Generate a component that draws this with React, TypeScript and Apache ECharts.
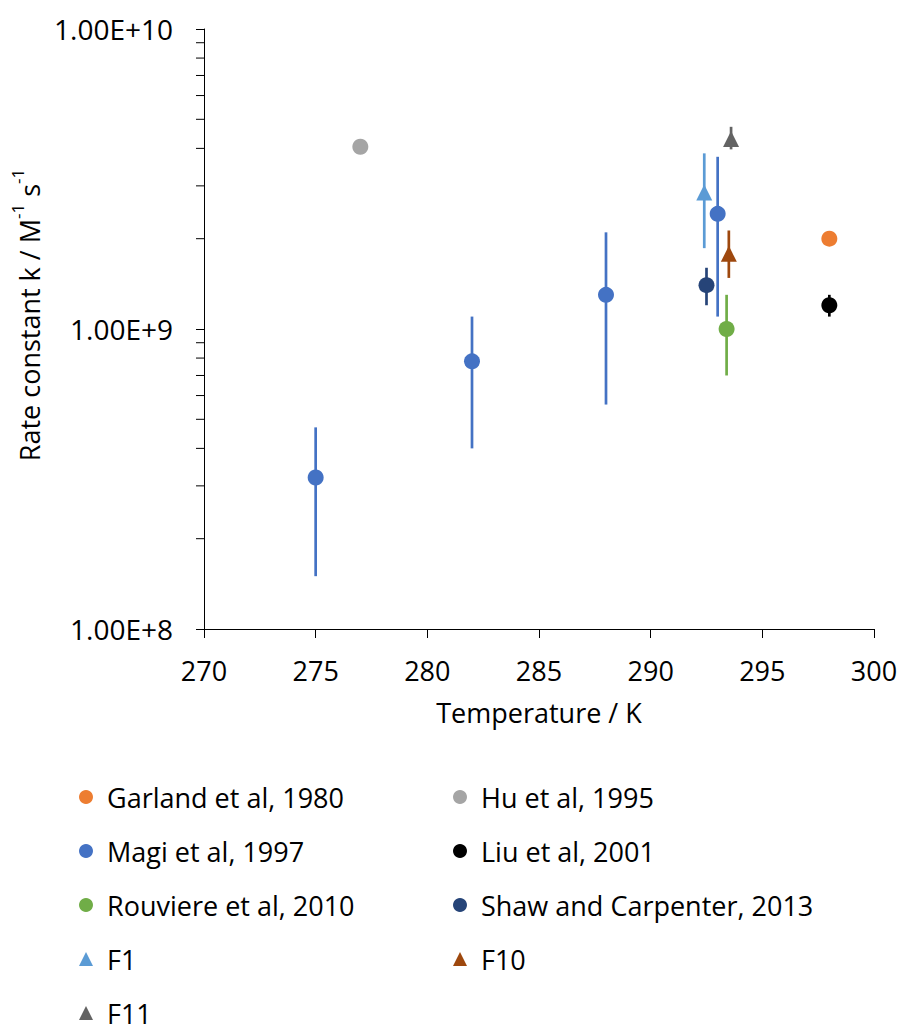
import React, { useEffect, useRef } from "react";
import * as echarts from "echarts";

// ---- data (Temperature / K, rate constant k / M^-1 s^-1) ----
const xTicks = [270, 275, 280, 285, 290, 295, 300];
const yMinorTicks = [2e8, 3e8, 4e8, 5e8, 6e8, 7e8, 8e8, 9e8, 2e9, 3e9, 4e9, 5e9, 6e9, 7e9, 8e9, 9e9];

const garlandT = [298];
const garlandK = [2.0e9];

const huT = [277];
const huK = [4.05e9];

const magiT = [275, 282, 288, 293];
const magiK = [3.2e8, 7.8e8, 1.3e9, 2.42e9];
const magiLow = [1.5e8, 4.0e8, 5.6e8, 1.1e9];
const magiHigh = [4.7e8, 1.1e9, 2.1e9, 3.75e9];

const liuT = [298];
const liuK = [1.2e9];
const liuLow = [1.1e9];
const liuHigh = [1.3e9];

const rouviereT = [293.4];
const rouviereK = [1.0e9];
const rouviereLow = [7.0e8];
const rouviereHigh = [1.3e9];

const shawT = [292.5];
const shawK = [1.4e9];
const shawLow = [1.2e9];
const shawHigh = [1.6e9];

const f1T = [292.4];
const f1K = [2.85e9];
const f1Low = [1.86e9];
const f1High = [3.85e9];

const f10T = [293.5];
const f10K = [1.78e9];
const f10Low = [1.48e9];
const f10High = [2.13e9];

const f11T = [293.6];
const f11K = [4.3e9];
const f11Low = [3.97e9];
const f11High = [4.72e9];

type Group = {
  name: string;
  t: number[];
  k: number[];
  low?: number[];
  high?: number[];
  color: string;
  symbol: string;
};

const groups: Group[] = [
  { name: "Garland et al, 1980", t: garlandT, k: garlandK, color: "#ED7D31", symbol: "circle" },
  { name: "Hu et al, 1995", t: huT, k: huK, color: "#A5A5A5", symbol: "circle" },
  { name: "Magi et al, 1997", t: magiT, k: magiK, low: magiLow, high: magiHigh, color: "#4472C4", symbol: "circle" },
  { name: "Liu et al, 2001", t: liuT, k: liuK, low: liuLow, high: liuHigh, color: "#000000", symbol: "circle" },
  { name: "Rouviere et al, 2010", t: rouviereT, k: rouviereK, low: rouviereLow, high: rouviereHigh, color: "#70AD47", symbol: "circle" },
  { name: "Shaw and Carpenter, 2013", t: shawT, k: shawK, low: shawLow, high: shawHigh, color: "#264478", symbol: "circle" },
  { name: "F1", t: f1T, k: f1K, low: f1Low, high: f1High, color: "#5B9BD5", symbol: "triangle" },
  { name: "F10", t: f10T, k: f10K, low: f10Low, high: f10High, color: "#9E480E", symbol: "triangle" },
  { name: "F11", t: f11T, k: f11K, low: f11Low, high: f11High, color: "#636363", symbol: "triangle" },
];

const legendLeft = ["Garland et al, 1980", "Magi et al, 1997", "Rouviere et al, 2010", "F1", "F11"];
const legendRight = ["Hu et al, 1995", "Liu et al, 2001", "Shaw and Carpenter, 2013", "F10"];

const FONT = "Open Sans";
const FS = 27;

export default function App() {
  const ref = useRef<HTMLDivElement>(null);

  useEffect(() => {
    if (!ref.current) return;
    const chart = echarts.init(ref.current, undefined, { renderer: "svg" });

    const errorSeries = groups
      .filter((g) => g.low && g.high)
      .map((g) => ({
        name: g.name + " error",
        type: "custom",
        z: 1,
        encode: { x: 0, y: [1, 2] },
        data: g.t.map((t, i) => [t, g.low![i], g.high![i]]),
        renderItem: (params: any, api: any) => {
          const x = api.value(0);
          const p1 = api.coord([x, api.value(1)]);
          const p2 = api.coord([x, api.value(2)]);
          return {
            type: "line",
            shape: { x1: p1[0], y1: p1[1], x2: p2[0], y2: p2[1] },
            style: { stroke: g.color, lineWidth: 2.7 },
          };
        },
      }));

    const scatterSeries = groups.map((g) => ({
      name: g.name,
      type: "scatter",
      z: 3,
      symbol: g.symbol,
      symbolSize: 16,
      itemStyle: { color: g.color, opacity: 1 },
      data: g.t.map((t, i) => [t, g.k[i]]),
    }));

    const minorTickSeries = {
      name: "minor ticks",
      type: "custom",
      z: 2,
      silent: true,
      encode: { x: 0, y: 1 },
      data: yMinorTicks.map((v) => [xTicks[0], v]),
      renderItem: (params: any, api: any) => {
        const p = api.coord([api.value(0), api.value(1)]);
        return {
          type: "line",
          shape: { x1: p[0] - 8, y1: p[1], x2: p[0], y2: p[1] },
          style: { stroke: "#000", lineWidth: 1 },
        };
      },
    };

    const legendCommon = {
      orient: "vertical",
      top: 782,
      padding: 0,
      height: 248,
      itemWidth: 14,
      itemHeight: 14,
      itemGap: 24,
      selectedMode: false,
      textStyle: {
        fontFamily: FONT,
        fontSize: FS,
        color: "#000",
        lineHeight: 30,
        padding: [0, 0, 0, 9],
      },
    };

    chart.setOption({
      animation: false,
      backgroundColor: "#fff",
      textStyle: { fontFamily: FONT },
      grid: { left: 204, right: 27, top: 29, bottom: 401, containLabel: false },
      legend: [
        { ...legendCommon, left: 79, data: legendLeft },
        { ...legendCommon, left: 453, data: legendRight },
      ],
      xAxis: {
        type: "value",
        min: xTicks[0],
        max: xTicks[xTicks.length - 1],
        interval: 5,
        name: "Temperature / K",
        nameLocation: "middle",
        nameGap: 70,
        nameTextStyle: { fontFamily: FONT, fontSize: FS, color: "#000", verticalAlign: "top" },
        axisLine: { onZero: false, lineStyle: { color: "#000", width: 1 } },
        axisTick: { length: 9, lineStyle: { color: "#000" } },
        axisLabel: { margin: 28, fontFamily: FONT, fontSize: FS, color: "#000" },
        splitLine: { show: false },
      },
      yAxis: {
        type: "log",
        logBase: 10,
        min: 1e8,
        max: 1e10,
        name: "{a|Rate constant k / M}{s|-1}{a| s}{s|-1}",
        nameLocation: "middle",
        nameGap: 150,
        nameRotate: 90,
        nameTextStyle: {
          fontFamily: FONT,
          fontSize: FS,
          color: "#000",
          padding: [0, 0, 0, 28],
          rich: {
            a: { fontFamily: FONT, fontSize: FS, color: "#000", lineHeight: 34, verticalAlign: "bottom" },
            s: { fontFamily: FONT, fontSize: 17, color: "#000", lineHeight: 34, verticalAlign: "top" },
          },
        },
        axisLine: { show: true, lineStyle: { color: "#000", width: 1 } },
        axisTick: { show: true, length: 8, lineStyle: { color: "#000" } },
        axisLabel: {
          margin: 31,
          fontFamily: FONT,
          fontSize: 28,
          color: "#000",
          formatter: (v: number) => v.toExponential(2).toUpperCase(),
        },
        splitLine: { show: false },
        minorTick: { show: false },
      },
      series: [minorTickSeries, ...errorSeries, ...scatterSeries],
    });

    return () => chart.dispose();
  }, []);

  return (
    <div
      ref={ref}
      style={{ position: "fixed", left: 0, top: 0, width: 901, height: 1030, background: "#fff" }}
    />
  );
}
